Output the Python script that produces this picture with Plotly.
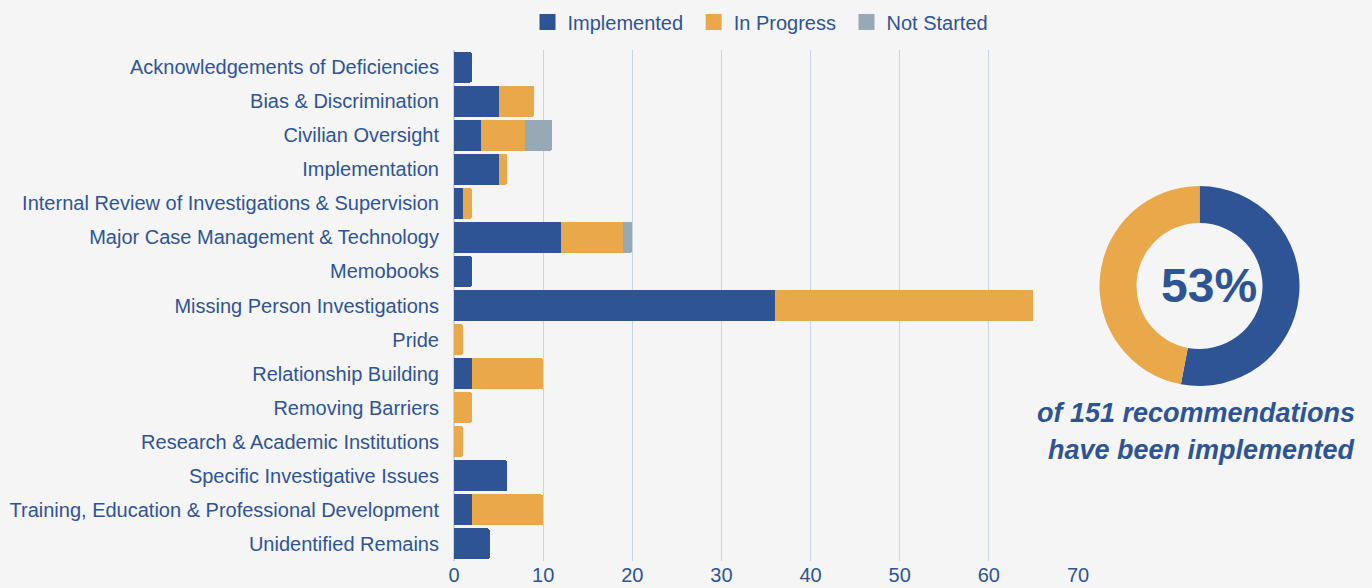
import plotly.graph_objects as go

BLUE = "#2F5496"
ORANGE = "#E9A94B"
GREY = "#97A9B4"
TEXT = "#2F5496"
GRID = "#C9D3E3"
BG = "#F5F5F5"
FONT = "Liberation Sans, Arial, sans-serif"

categories = [
    "Acknowledgements of Deficiencies",
    "Bias & Discrimination",
    "Civilian Oversight",
    "Implementation",
    "Internal Review of Investigations & Supervision",
    "Major Case Management & Technology",
    "Memobooks",
    "Missing Person Investigations",
    "Pride",
    "Relationship Building",
    "Removing Barriers",
    "Research & Academic Institutions",
    "Specific Investigative Issues",
    "Training, Education & Professional Development",
    "Unidentified Remains",
]
implemented = [2, 5, 3, 5, 1, 12, 2, 36, 0, 2, 0, 0, 6, 2, 4]
in_progress = [0, 4, 5, 1, 1, 7, 0, 29, 1, 8, 2, 1, 0, 8, 0]
not_started = [0, 0, 3, 0, 0, 1, 0, 0, 0, 0, 0, 0, 0, 0, 0]

total = sum(implemented) + sum(in_progress) + sum(not_started)
done = sum(implemented)
pct = round(100 * done / total)

series = [
    ("Implemented", implemented, BLUE),
    ("In Progress", in_progress, ORANGE),
    ("Not Started", not_started, GREY),
]

fig = go.Figure()
for name, vals, color in series:
    fig.add_trace(
        go.Bar(
            y=categories,
            x=vals,
            name=name,
            orientation="h",
            showlegend=False,
            marker=dict(color=color, line=dict(width=0), cornerradius=2),
        )
    )

# legend-only entries so the swatches can be larger squares
for name, _, color in series:
    fig.add_trace(
        go.Scatter(
            x=[None], y=[None], mode="markers", name=name + " ",
            marker=dict(symbol="square", size=24, color=color),
        )
    )

# donut: implemented vs the rest
fig.add_trace(
    go.Pie(
        values=[done, total - done],
        marker=dict(colors=[BLUE, ORANGE]),
        hole=0.63,
        sort=False,
        direction="clockwise",
        rotation=0,
        textinfo="none",
        showlegend=False,
        domain=dict(x=[1099.5 / 1372, 1299.5 / 1372], y=[202 / 588, 402 / 588]),
    )
)

fig.update_layout(
    width=1372,
    height=588,
    barmode="stack",
    bargap=0.09,
    paper_bgcolor=BG,
    plot_bgcolor=BG,
    font=dict(family=FONT, size=20, color=TEXT),
    margin=dict(l=0, r=0, t=0, b=0, autoexpand=False),
    legend=dict(
        orientation="h",
        x=763 / 1372,
        xanchor="center",
        y=566 / 588,
        yanchor="middle",
        itemsizing="trace",
        itemwidth=30,
        font=dict(size=20, color=TEXT),
        traceorder="normal",
    ),
    annotations=[
        dict(
            text=f"<b>{pct}%</b>",
            x=1209 / 1372, y=303 / 588, xref="paper", yref="paper",
            xanchor="center", yanchor="middle",
            showarrow=False, font=dict(size=48, color=TEXT, family=FONT),
        ),
        dict(
            text="<b><i>of 151 recommendations</i></b>",
            x=1357 / 1372, y=175 / 588, xref="paper", yref="paper",
            xanchor="right", yanchor="middle",
            showarrow=False, font=dict(size=27, color=TEXT, family=FONT),
        ),
        dict(
            text="<b><i>have been implemented</i></b>",
            x=1357 / 1372, y=138 / 588, xref="paper", yref="paper",
            xanchor="right", yanchor="middle",
            showarrow=False, font=dict(size=27, color=TEXT, family=FONT),
        ),
    ],
)
fig.update_xaxes(
    domain=[454 / 1372, 1078 / 1372],
    range=[0, 70],
    dtick=10,
    showgrid=True,
    gridcolor=GRID,
    gridwidth=1,
    zeroline=True,
    zerolinecolor=GRID,
    showline=False,
    automargin=False,
    tickfont=dict(size=20, color=TEXT),
)
fig.update_yaxes(
    domain=[27 / 588, 538 / 588],
    autorange="reversed",
    showgrid=False,
    showline=False,
    automargin=False,
    ticklabelstandoff=14,
    tickfont=dict(size=20, color=TEXT),
)

fig.write_html(
    "out.html",
    config={"displayModeBar": False},
    post_script="document.body.style.margin='0';",
)
